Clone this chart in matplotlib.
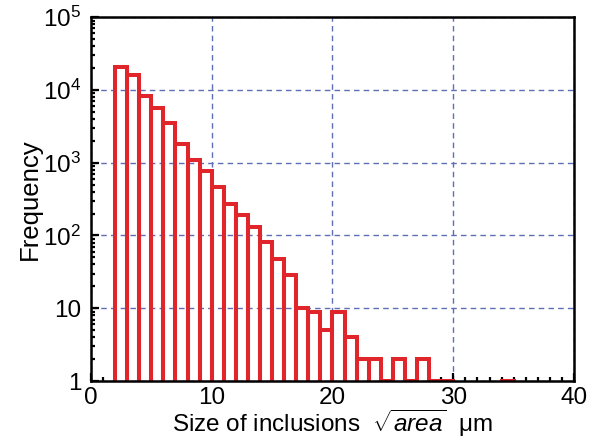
import numpy as np
import matplotlib
matplotlib.use("Agg")
import matplotlib.pyplot as plt
from matplotlib.ticker import MultipleLocator, LogLocator, NullFormatter

plt.rcParams["font.family"] = ["Liberation Sans", "DejaVu Sans"]
plt.rcParams["mathtext.fontset"] = "custom"
plt.rcParams["mathtext.rm"] = "Liberation Sans"
plt.rcParams["mathtext.it"] = "Liberation Sans:italic"

# histogram bins (left edge, width 1 um) and counts
bin_left = [2, 3, 4, 5, 6, 7, 8, 9, 10, 11, 12, 13, 14, 15, 16, 17, 18, 19,
            20, 21, 22, 23, 24, 25, 26, 27, 28, 29, 34]
counts = [21000, 16000, 8300, 5600, 3500, 1800, 1100, 760, 460, 270, 190,
          130, 82, 48, 29, 10, 9, 5, 9, 4, 2, 2, 1, 2, 1, 2, 1, 1, 1]

ytick_vals = [1, 10, 1e2, 1e3, 1e4, 1e5]
ytick_labels = ["1", "10", "$10^2$", "$10^3$", "$10^4$", "$10^5$"]
xtick_vals = [0, 10, 20, 30, 40]

fig = plt.figure(figsize=(5.98, 4.41), dpi=100)
ax = fig.add_axes([0.152, 0.136, 0.808, 0.825])

ax.bar(bin_left, counts, width=1, align="edge", fill=False,
       edgecolor="#e0262b", linewidth=2.9, zorder=3)

ax.set_yscale("log")
ax.set_xlim(0, 40)
ax.set_ylim(1, 1e5)

ax.set_yticks(ytick_vals)
ax.set_yticklabels(ytick_labels)
ax.yaxis.set_minor_locator(LogLocator(base=10, subs=np.arange(2, 10)))
ax.yaxis.set_minor_formatter(NullFormatter())
ax.set_xticks(xtick_vals)
ax.xaxis.set_minor_locator(MultipleLocator(1))

ax.tick_params(which="both", direction="in", labelsize=17.5, width=1.6,
               top=False, right=False)
ax.tick_params(which="major", length=6)
ax.tick_params(which="minor", length=3)
ax.tick_params(axis="x", pad=4)
ax.tick_params(axis="y", pad=7)

for s in ax.spines.values():
    s.set_linewidth(1.8)
    s.set_zorder(4)

ax.grid(True, which="major", linestyle=(0, (4, 3)), color="#5f6fb3",
        linewidth=1.0)
ax.set_axisbelow(True)

ax.set_ylabel("Frequency", fontsize=18.5, labelpad=1)
ax.set_xlabel(r"Size of inclusions  $\sqrt{area}$  μm", fontsize=17.5,
              labelpad=-1)

fig.savefig("out.png", dpi=100)
